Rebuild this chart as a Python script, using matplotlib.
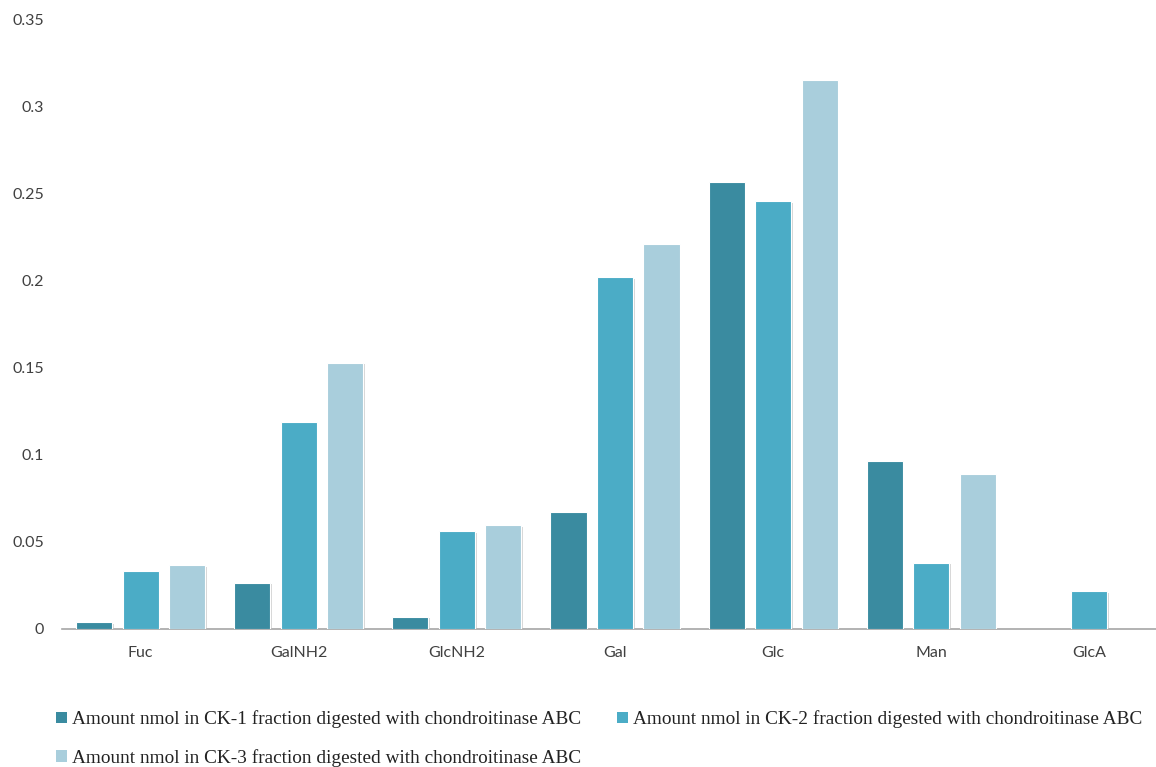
import matplotlib
matplotlib.use("Agg")
import matplotlib.pyplot as plt
import matplotlib.patheffects as pe
from matplotlib.patches import Patch
import numpy as np

categories = ["Fuc", "GalNH2", "GlcNH2", "Gal", "Glc", "Man", "GlcA"]
ck1 = [0.004, 0.0265, 0.007, 0.067, 0.257, 0.0965, 0.0]
ck2 = [0.0333, 0.119, 0.0563, 0.2023, 0.246, 0.038, 0.0218]
ck3 = [0.0368, 0.153, 0.0598, 0.2213, 0.3155, 0.089, 0.0]
series_labels = [
    "Amount nmol in CK-1 fraction digested with chondroitinase ABC",
    "Amount nmol in CK-2 fraction digested with chondroitinase ABC",
    "Amount nmol in CK-3 fraction digested with chondroitinase ABC",
]
colors = ["#3A8BA0", "#4BACC6", "#A9CEDC"]
yticks = [0, 0.05, 0.1, 0.15, 0.2, 0.25, 0.3, 0.35]
ytick_labels = ["0", "0.05", "0.1", "0.15", "0.2", "0.25", "0.3", "0.35"]

fig = plt.figure(figsize=(11.56, 7.67), dpi=100)
ax = fig.add_axes([61.5 / 1156, 0.180, 1107 / 1156, 0.794])

x = np.arange(len(categories))
w = 0.228
step = 0.294
shadow = [pe.SimplePatchShadow(offset=(1.2, -1.2), shadow_rgbFace="#bbbbbb", alpha=0.6), pe.Normal()]
for i, (vals, c) in enumerate(zip([ck1, ck2, ck3], colors)):
    keep = [(xi + (i - 1) * step, v) for xi, v in zip(x, vals) if v > 0]
    bars = ax.bar([k[0] for k in keep], [k[1] for k in keep], width=w, color=c,
                  edgecolor="white", linewidth=0.8, zorder=3)
    for b in bars:
        b.set_path_effects(shadow)

ax.set_xlim(-0.5, 6.5)
ax.set_ylim(0, 0.35)
ax.set_yticks(yticks)
ax.set_yticklabels(ytick_labels)
ax.set_xticks(x)
ax.set_xticklabels(categories)

for s in ["top", "right", "left"]:
    ax.spines[s].set_visible(False)
ax.spines["bottom"].set_color("#a6a6a6")
ax.spines["bottom"].set_linewidth(1.2)
ax.tick_params(axis="both", length=0, labelsize=11.5, labelcolor="#404040")
ax.tick_params(axis="y", pad=12.6)
ax.tick_params(axis="x", pad=12)
for lab in ax.get_xticklabels() + ax.get_yticklabels():
    lab.set_fontfamily("Lato")

handles = [Patch(facecolor=c, edgecolor="none") for c in colors]
order = [0, 2, 1]
fig.legend([handles[k] for k in order], [series_labels[k] for k in order],
           loc="upper left", bbox_to_anchor=(0.0487, 0.074), ncol=2, frameon=False,
           prop={"family": "Liberation Serif", "size": 13.85},
           handlelength=0.55, handleheight=0.55, handletextpad=0.25,
           columnspacing=1.9, labelspacing=1.08, labelcolor="#222222",
           borderaxespad=0, borderpad=0)

fig.savefig("out.png", dpi=100, facecolor="white")
